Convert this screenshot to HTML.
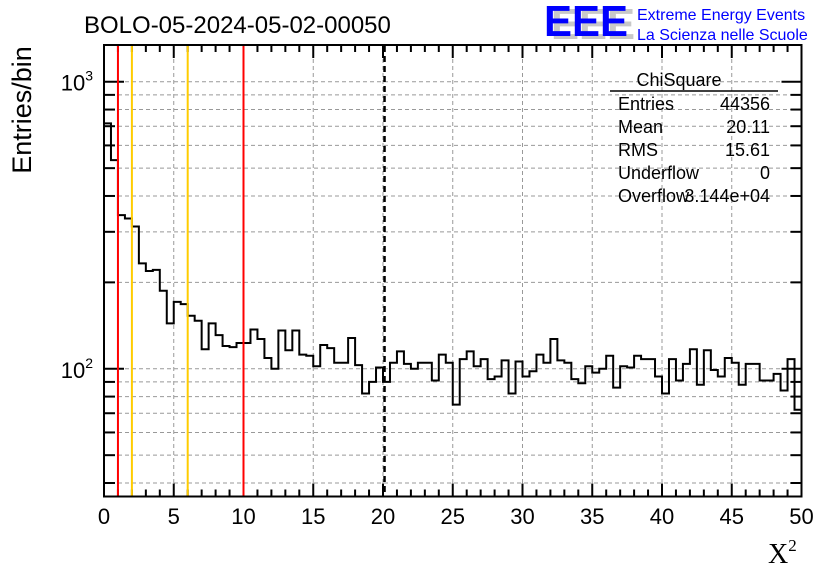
<!DOCTYPE html>
<html><head><meta charset="utf-8"><style>
body{margin:0;background:#fff;}
svg{display:block;font-family:"Liberation Sans",sans-serif;}
</style></head><body>
<svg id="c" width="836" height="572" viewBox="0 0 836 572">
<rect width="836" height="572" fill="#fff"/>
<g id="grid"></g>
<g id="hist"></g>
<g id="axes"></g>
<g id="vlines"></g>
<text x="84" y="33" font-size="24">BOLO-05-2024-05-02-00050</text>
<text transform="translate(31,110) rotate(-90)" text-anchor="middle" font-size="27">Entries/bin</text>
<text x="768" y="563" font-size="28" font-family="Liberation Serif,serif">X<tspan font-size="17" dy="-12">2</tspan></text>
<g>
<text x="551" y="39" font-size="44" font-weight="bold" fill="#c8c8c8" textLength="84" lengthAdjust="spacingAndGlyphs">EEE</text>
<text x="544" y="36" font-size="44" font-weight="bold" fill="#0000ff" textLength="84" lengthAdjust="spacingAndGlyphs">EEE</text>
<text x="637" y="20" font-size="16" fill="#0000ff">Extreme Energy Events</text>
<text x="637" y="40" font-size="16" fill="#0000ff">La Scienza nelle Scuole</text>
</g>
<g font-size="18">
<text x="679" y="86" text-anchor="middle">ChiSquare</text>
<line x1="610" y1="91" x2="778" y2="91" stroke="#000" stroke-width="1.5"/>
<text x="618" y="110">Entries</text><text x="770" y="110" text-anchor="end">44356</text>
<text x="618" y="133">Mean</text><text x="770" y="133" text-anchor="end">20.11</text>
<text x="618" y="156">RMS</text><text x="770" y="156" text-anchor="end">15.61</text>
<text x="618" y="179">Underflow</text><text x="770" y="179" text-anchor="end">0</text>
<text x="618" y="202">Overflow</text><text x="770" y="202" text-anchor="end">3.144e+04</text>
</g>
</svg>
<script>
const binEdgesStart = 0;
const binWidth = 0.5;
const counts = [716,533,343,334,313,233,219,221,187,144,171,168,153,147,117,144,131,120,119,123,
123,137,127,109,100,136,116,136,112,111,102,121,118,105,105,128,103,82,90,101,
90,105,115,104,100,105,105,91,112,105,75,108,115,102,108,92,94,107,82,106,
94,98,112,105,127,107,105,92,89,102,97,100,111,86,102,101,111,108,108,94,
82,108,91,104,117,88,116,99,94,109,105,88,104,104,91,91,96,84,108,72];
const xTicks = [0,5,10,15,20,25,30,35,40,45,50];
const yMajor = [100,1000];
const yMinor = [40,50,60,70,80,90,200,300,400,500,600,700,800,900];
const markerLines = [{x:1,c:'#ff0000',n:'red-line-1'},{x:2,c:'#ffcc00',n:'orange-line-2'},{x:6,c:'#ffcc00',n:'orange-line-6'},{x:10,c:'#ff0000',n:'red-line-10'}];
const meanValue = 20.11;

const X0=104,X1=801.5,Y0=496.5,Y1=45;
const xmin=0,xmax=50;
const ylo=1.555, yhi=3.128;
const NS='http://www.w3.org/2000/svg';
function sx(v){return X0+(v-xmin)/(xmax-xmin)*(X1-X0);}
function sy(v){return Y0-(Math.log10(v)-ylo)/(yhi-ylo)*(Y0-Y1);}
function mk(tag,attrs,parent){const e=document.createElementNS(NS,tag);for(const k in attrs)e.setAttribute(k,attrs[k]);parent.appendChild(e);return e;}
const grid=document.getElementById('grid'),hist=document.getElementById('hist'),vl=document.getElementById('vlines'),axes=document.getElementById('axes');
xTicks.forEach(t=>{if(t===0||t===50)return;const l=mk('line',{x1:sx(t),x2:sx(t),y1:Y1,y2:Y0,stroke:'#999','stroke-width':1,'stroke-dasharray':'4,3'},grid);

});
yMajor.concat(yMinor).forEach(t=>{const l=mk('line',{x1:X0,x2:X1,y1:sy(t),y2:sy(t),stroke:'#999','stroke-width':1,'stroke-dasharray':'4,3'},grid);

});
let d='M'+sx(binEdgesStart)+','+Y0;
counts.forEach((c,i)=>{const a=sx(binEdgesStart+i*binWidth),b=sx(binEdgesStart+(i+1)*binWidth),y=sy(c);d+=' L'+a+','+y+' L'+b+','+y;});
d+=' L'+sx(binEdgesStart+counts.length*binWidth)+','+Y0;
const p=mk('path',{d:d,fill:'none',stroke:'#000','stroke-width':2},hist);


const fr=mk('rect',{x:X0,y:Y1,width:X1-X0,height:Y0-Y1,fill:'none',stroke:'#000','stroke-width':2},axes);


for(let v=0;v<=50;v++){const maj=v%5===0,len=maj?13:7;
mk('line',{x1:sx(v),x2:sx(v),y1:Y0,y2:Y0-len,stroke:'#000','stroke-width':2},axes);
mk('line',{x1:sx(v),x2:sx(v),y1:Y1,y2:Y1+len,stroke:'#000','stroke-width':2},axes);}
xTicks.forEach(t=>{const tx=mk('text',{x:sx(t),y:524,'text-anchor':'middle','font-size':22},axes);tx.textContent=t;

});
yMajor.forEach(t=>{mk('line',{x1:X0,x2:X0+20,y1:sy(t),y2:sy(t),stroke:'#000','stroke-width':2},axes);
mk('line',{x1:X1,x2:X1-20,y1:sy(t),y2:sy(t),stroke:'#000','stroke-width':2},axes);
const tx=mk('text',{x:93,y:sy(t)+9,'text-anchor':'end','font-size':22},axes);


const e=Math.round(Math.log10(t));tx.innerHTML='10<tspan font-size="14" dy="-10">'+e+'</tspan>';});
yMinor.forEach(t=>{mk('line',{x1:X0,x2:X0+11,y1:sy(t),y2:sy(t),stroke:'#000','stroke-width':2},axes);
mk('line',{x1:X1,x2:X1-11,y1:sy(t),y2:sy(t),stroke:'#000','stroke-width':2},axes);});
markerLines.forEach(m=>{const l=mk('line',{x1:sx(m.x),x2:sx(m.x),y1:Y1+1,y2:Y0-1,stroke:m.c,'stroke-width':2},vl);

});
const ml=mk('line',{x1:sx(meanValue),x2:sx(meanValue),y1:Y1+1,y2:Y0-1,stroke:'#000','stroke-width':2.5,'stroke-dasharray':'6,4'},vl);


</script>
</body></html>
